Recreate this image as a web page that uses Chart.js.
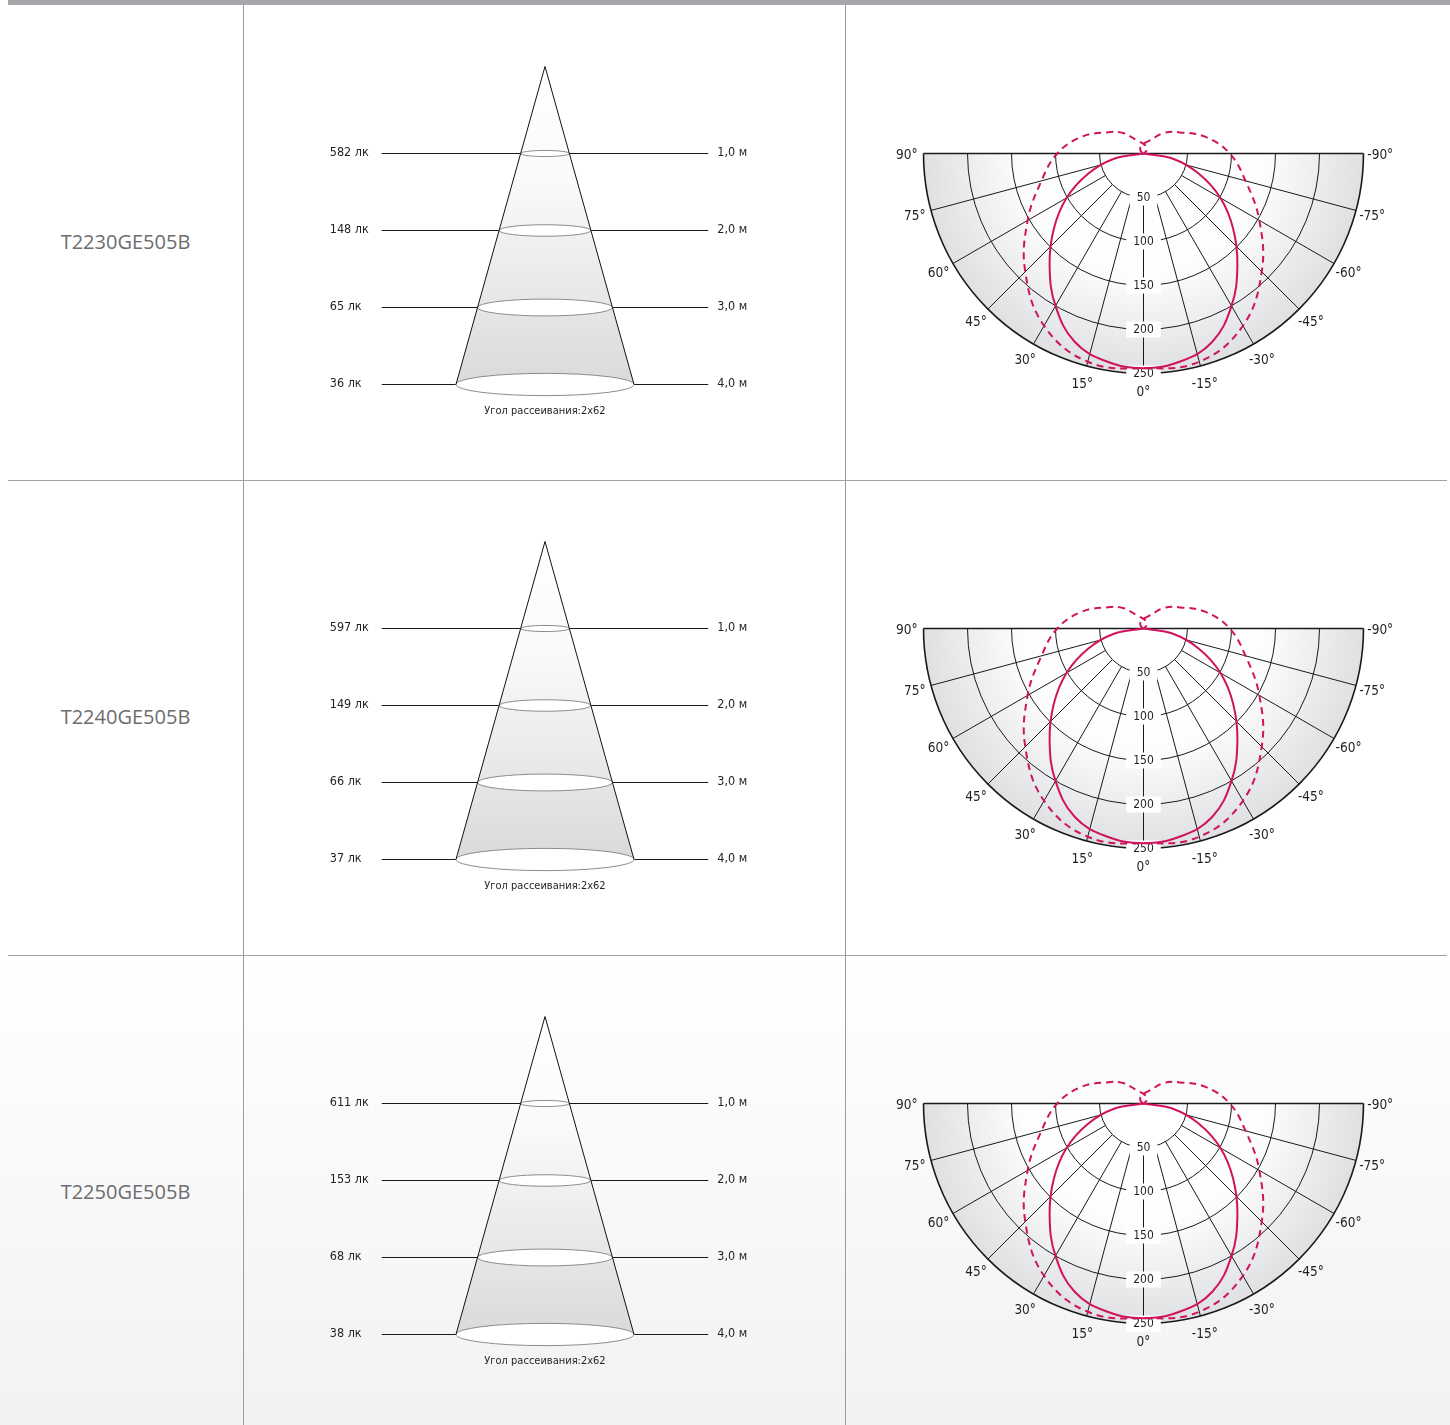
<!DOCTYPE html>
<html><head><meta charset="utf-8">
<script src="https://cdn.jsdelivr.net/npm/chart.js@4.4.1/dist/chart.umd.min.js"></script>
<style>
html,body{margin:0;padding:0;}
body{width:1450px;height:1425px;position:relative;overflow:hidden;background:linear-gradient(to bottom,#ffffff 0px,#ffffff 960px,#f2f2f3 1425px);font-family:'Open Sans',sans-serif;}
.topbar{position:absolute;left:8px;top:0;width:1442px;height:5px;background:#a6a7aa;}
.vline{position:absolute;top:5px;width:1px;height:1420px;background:#9c9c9c;}
.hline{position:absolute;left:8px;width:1439px;height:1px;background:#a3a3a3;}
.model{position:absolute;left:8px;width:235px;text-align:center;font-size:20px;color:#6c6d70;line-height:24px;}
canvas{position:absolute;}
</style></head><body>
<div class="topbar"></div>
<div class="vline" style="left:243px"></div>
<div class="vline" style="left:845px"></div>
<div class="hline" style="top:480px"></div>
<div class="hline" style="top:955px"></div>
<script>
// ---------- DATA ----------
const models = ['T2230GE505B', 'T2240GE505B', 'T2250GE505B'];
const luxT2230 = [582, 148, 65, 36];
const luxT2240 = [597, 149, 66, 37];
const luxT2250 = [611, 153, 68, 38];
const distances = [1.0, 2.0, 3.0, 4.0];
const distanceLabels = ['1,0 м', '2,0 м', '3,0 м', '4,0 м'];
const beamAngleLabel = 'Угол рассеивания:2x62';
const ringValues = [50, 100, 150, 200, 250];
const angleTicks = [90, 75, 60, 45, 30, 15, 0, -15, -30, -45, -60, -75, -90];
// C0 plane (solid)
const solidAngles = [-90, -80, -70, -60, -50, -40, -30, -20, -10, 0, 10, 20, 30, 40, 50, 60, 70, 80, 90];
const solidValues = [0, 34, 67, 101, 133, 166, 200, 228, 240, 244, 240, 228, 200, 166, 133, 101, 67, 34, 0];
// C90 plane (dashed), path order incl. small loop at the top
const dashedAngles = [-250, -225, -205, -180, -155, -135, -120, -105, -90, -75, -60, -45, -30, -15, 0, 15, 30, 45, 60, 75, 90, 105, 120, 135, 155, 180, 205, 225, 250];
const dashedValues = [1, 5, 8, 11, 16, 33, 48, 73, 98, 120, 152, 190, 226, 245, 244, 245, 226, 190, 152, 120, 98, 73, 48, 33, 16, 11, 8, 5, 1];
const luxByModel = [luxT2230, luxT2240, luxT2250];

// ---------- STYLE ----------
const ROW_H = 475;
const CONDENSED = "'Liberation Sans Narrow','DejaVu Sans Condensed','Open Sans',sans-serif";
const CURVE = '#d0135c';
const PX_PER_M = 77;
const PX_PER_CD = 0.88;

const conePlugin = {
  id: 'cone',
  afterDatasetsDraw(chart, args, o) {
    const { ctx, scales: { x, y } } = chart;
    const cx = x.getPixelForValue(0);
    const ay = y.getPixelForValue(o.apex);
    const dmax = distances[distances.length - 1];
    const by = y.getPixelForValue(dmax);
    const hw = d => x.getPixelForValue(o.spread * (d - o.apex)) - cx;
    const bw = hw(dmax);
    ctx.save();
    const g = ctx.createLinearGradient(0, ay, 0, by);
    g.addColorStop(0, '#ffffff'); g.addColorStop(0.35, '#fafafa'); g.addColorStop(1, '#d9dadc');
    ctx.beginPath(); ctx.moveTo(cx, ay); ctx.lineTo(cx + bw, by); ctx.lineTo(cx - bw, by); ctx.closePath();
    ctx.fillStyle = g; ctx.fill();
    distances.forEach(d => {
      const py = y.getPixelForValue(d), rx = hw(d), ry = rx * 0.125;
      ctx.beginPath(); ctx.ellipse(cx, py, rx, ry, 0, 0, Math.PI * 2);
      ctx.fillStyle = '#ffffff'; ctx.fill();
      ctx.lineWidth = 1; ctx.strokeStyle = '#8c8c8c'; ctx.stroke();
    });
    ctx.beginPath(); ctx.moveTo(cx - bw, by); ctx.lineTo(cx, ay); ctx.lineTo(cx + bw, by);
    ctx.strokeStyle = '#111'; ctx.lineWidth = 1; ctx.stroke();
    ctx.fillStyle = '#231f20';
    ctx.font = '12.5px ' + CONDENSED;
    ctx.textBaseline = 'middle';
    distances.forEach((d, i) => {
      const py = y.getPixelForValue(d);
      ctx.textAlign = 'left';
      ctx.fillText(o.lux[i] + ' лк', x.getPixelForValue(-o.lineHalf) - 52, py - 1);
      ctx.fillText(distanceLabels[i], x.getPixelForValue(o.lineHalf) + 9, py - 1);
    });
    ctx.textAlign = 'center';
    ctx.font = '11px ' + CONDENSED;
    ctx.fillText(beamAngleLabel, cx, y.getPixelForValue(dmax) + 27);
    ctx.restore();
  }
};

const polarGridPlugin = {
  id: 'polarGrid',
  beforeDatasetsDraw(chart, args, o) {
    const { ctx, scales: { x, y } } = chart;
    const cx = x.getPixelForValue(0), cy = y.getPixelForValue(0);
    const pr = v => x.getPixelForValue(v) - cx;
    const R = pr(ringValues[ringValues.length - 1]);
    const r0 = pr(ringValues[0]);
    ctx.save();
    const g = ctx.createRadialGradient(cx, cy, 0, cx, cy, R);
    g.addColorStop(0, '#ffffff'); g.addColorStop(0.55, '#fdfdfd'); g.addColorStop(1, '#dfe0e2');
    ctx.beginPath(); ctx.moveTo(cx + R, cy); ctx.arc(cx, cy, R, 0, Math.PI); ctx.closePath();
    ctx.fillStyle = g; ctx.fill();
    ctx.beginPath(); ctx.moveTo(cx + r0, cy); ctx.arc(cx, cy, r0, 0, Math.PI); ctx.closePath();
    ctx.fillStyle = '#ffffff'; ctx.fill();
    ctx.strokeStyle = '#1a1a1a'; ctx.lineWidth = 1;
    angleTicks.forEach(a => {
      if (Math.abs(a) === 90) return;
      const t = a * Math.PI / 180;
      ctx.beginPath();
      ctx.moveTo(cx - r0 * Math.sin(t), cy + r0 * Math.cos(t));
      ctx.lineTo(cx - R * Math.sin(t), cy + R * Math.cos(t));
      ctx.stroke();
    });
    ringValues.forEach((v, i) => {
      ctx.beginPath(); ctx.arc(cx, cy, pr(v), 0, Math.PI);
      ctx.lineWidth = i === ringValues.length - 1 ? 1.6 : 1; ctx.stroke();
    });
    ctx.beginPath(); ctx.moveTo(cx - R, cy); ctx.lineTo(cx + R, cy); ctx.lineWidth = 1.5; ctx.stroke();
    ctx.font = '12px ' + CONDENSED;
    ctx.textAlign = 'center'; ctx.textBaseline = 'middle';
    ringValues.forEach(v => {
      const py = cy + pr(v);
      const w = ctx.measureText(String(v)).width + 14;
      ctx.fillStyle = '#ffffff'; ctx.fillRect(cx - w / 2, py - 8, w, 16);
      ctx.fillStyle = '#231f20'; ctx.fillText(String(v), cx, py);
    });
    ctx.font = '13.5px ' + CONDENSED;
    const rl = pr(o.labelRadius);
    angleTicks.forEach(a => {
      const t = a * Math.PI / 180;
      ctx.fillText(a + '°', cx - rl * Math.sin(t), cy + rl * Math.cos(t) + 2);
    });
    ctx.restore();
  }
};

function toXY(angles, values) {
  return angles.map((a, i) => {
    const t = a * Math.PI / 180;
    return { x: -values[i] * Math.sin(t), y: -values[i] * Math.cos(t) };
  });
}

function mkCanvas(left, top, w, h) {
  const c = document.createElement('canvas');
  c.width = w; c.height = h;
  c.style.left = left + 'px'; c.style.top = top + 'px';
  c.style.width = w + 'px'; c.style.height = h + 'px';
  document.body.appendChild(c);
  return c;
}

const baseOpts = {
  responsive: false, animation: false, events: [],
  layout: { padding: 0 },
  plugins: { legend: { display: false }, tooltip: { enabled: false } }
};

models.forEach((m, r) => {
  const off = r * ROW_H;
  const d = document.createElement('div');
  d.className = 'model'; d.textContent = m; d.style.top = (230 + off) + 'px';
  document.body.appendChild(d);

  // cone chart
  const cw = 490, ch = 410, cTop = 30 + off, lineY = 123.5, cX0 = 245;
  const lineHalf = 2.12;
  const cone = mkCanvas(300, cTop, cw, ch);
  new Chart(cone, {
    type: 'scatter',
    data: {
      datasets: distances.map(dd => ({
        data: [{ x: -lineHalf, y: dd }, { x: lineHalf, y: dd }],
        showLine: true, borderColor: '#1a1a1a', borderWidth: 1, pointRadius: 0
      }))
    },
    options: Object.assign({}, baseOpts, {
      scales: {
        x: { type: 'linear', display: false, min: -cX0 / PX_PER_M, max: (cw - cX0) / PX_PER_M },
        y: { type: 'linear', display: false, reverse: true,
             min: 1 - lineY / PX_PER_M, max: 1 + (ch - lineY) / PX_PER_M }
      },
      plugins: Object.assign({}, baseOpts.plugins, {
        cone: { apex: -0.13, spread: 0.28, lineHalf: lineHalf, lux: luxByModel[r] }
      })
    }),
    plugins: [conePlugin]
  });

  // polar chart
  const pw = 580, ph = 320, pLeft = 860, pTop = 105 + off, pcx = 283.5, pcy = 48.5;
  const polar = mkCanvas(pLeft, pTop, pw, ph);
  new Chart(polar, {
    type: 'scatter',
    data: {
      datasets: [
        { data: toXY(solidAngles, solidValues), showLine: true, tension: 0.4,
          borderColor: CURVE, borderWidth: 2, pointRadius: 0 },
        { data: toXY(dashedAngles, dashedValues), showLine: true, tension: 0.4,
          borderColor: CURVE, borderWidth: 2, borderDash: [7, 5], pointRadius: 0 }
      ]
    },
    options: Object.assign({}, baseOpts, {
      scales: {
        x: { type: 'linear', display: false, min: -pcx / PX_PER_CD, max: (pw - pcx) / PX_PER_CD },
        y: { type: 'linear', display: false, min: -(ph - pcy) / PX_PER_CD, max: pcy / PX_PER_CD }
      },
      plugins: Object.assign({}, baseOpts.plugins, {
        polarGrid: { labelRadius: 269 }
      })
    }),
    plugins: [polarGridPlugin]
  });
});
</script>
</body></html>
